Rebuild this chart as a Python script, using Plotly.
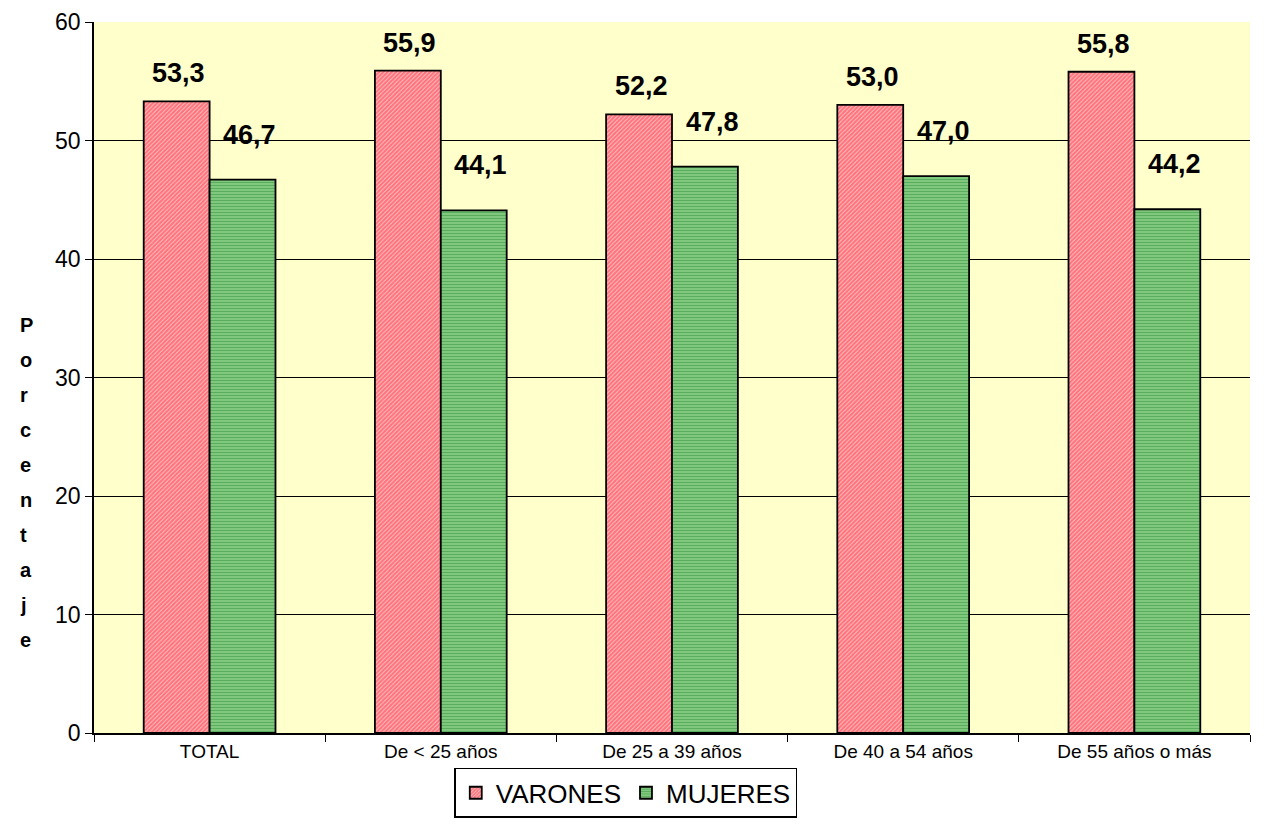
import plotly.graph_objects as go

categorias = ["TOTAL", "De < 25 años", "De 25 a 39 años", "De 40 a 54 años", "De 55 años o más"]
varones = [53.3, 55.9, 52.2, 53.0, 55.8]
mujeres = [46.7, 44.1, 47.8, 47.0, 44.2]
titulo_y = "Porcentaje"

def fmt(v):
    return f"{v:.1f}".replace(".", ",")

fig = go.Figure()
fig.add_trace(go.Bar(
    x=categorias, y=varones, name="VARONES",
    marker=dict(color="#ffffff", line=dict(color="black", width=1.8),
                pattern=dict(shape="/", fgcolor="#ff0010", bgcolor="#ffe8e8", size=3, solidity=0.8)),
))
fig.add_trace(go.Bar(
    x=categorias, y=mujeres, name="MUJERES",
    marker=dict(color="#ffffff", line=dict(color="black", width=1.8),
                pattern=dict(shape="-", fgcolor="#1a7f28", bgcolor="#98da92", size=3, solidity=0.6)),
))

# etiquetas de datos
for i, c in enumerate(categorias):
    fig.add_annotation(x=c, y=varones[i], text=f"<b>{fmt(varones[i])}</b>", showarrow=False,
                       xshift=-31, yshift=28, font=dict(size=27, color="black"))
    fig.add_annotation(x=c, y=mujeres[i], text=f"<b>{fmt(mujeres[i])}</b>", showarrow=False,
                       xshift=40, yshift=45, font=dict(size=27, color="black"))

# título vertical del eje y, letra por letra
for k, ch in enumerate(titulo_y):
    fig.add_annotation(xref="paper", yref="paper", x=-0.066, y=0.352, yshift=(4.5 - k) * 35,
                       text=f"<b>{ch}</b>", showarrow=False, font=dict(size=20, color="black"))

# la página añade 8px de margen al cuerpo; se compensa aquí
fig.update_layout(
    width=1270, height=827,
    margin=dict(l=86, r=28, t=14, b=102, autoexpand=False),
    plot_bgcolor="#ffffcc", paper_bgcolor="white",
    font=dict(family="Liberation Sans, Arial, sans-serif", color="black"),
    barmode="group", bargap=0.43, bargroupgap=0,
    showlegend=True,
    legend=dict(orientation="h", x=0.46, xanchor="center", y=-0.049, yanchor="top",
                bordercolor="black", borderwidth=1.5, font=dict(size=26),
                traceorder="normal"),
)
fig.update_xaxes(tickson="boundaries", ticks="outside", ticklen=7, tickcolor="black",
                 showline=True, linecolor="black", linewidth=1.5, automargin=False,
                 tickfont=dict(size=19), showgrid=False)
fig.update_yaxes(range=[0, 60], dtick=10, ticks="outside", ticklen=7, tickcolor="black",
                 showline=True, linecolor="black", linewidth=1.5, automargin=False,
                 gridcolor="black", gridwidth=1, zeroline=False,
                 tickfont=dict(size=23))

fig.write_html("out.html")
